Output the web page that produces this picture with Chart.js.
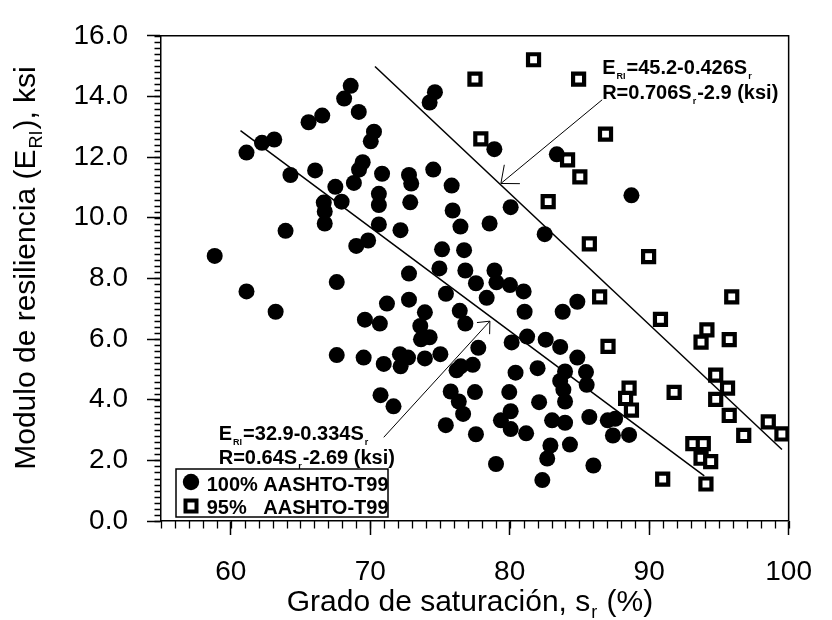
<!DOCTYPE html>
<html><head><meta charset="utf-8">
<script src="https://cdn.jsdelivr.net/npm/chart.js@4.4.0/dist/chart.umd.min.js"></script>
<style>html,body{margin:0;padding:0;background:#fff;}#wrap{width:832px;height:620px;}</style>
</head><body><div id="wrap"><canvas id="c" width="832" height="620"></canvas></div>
<script>
const FONT = '"Liberation Sans", Arial, Helvetica, sans-serif';

const xTickValues = [60, 70, 80, 90, 100];
const xTickLabels = ["60", "70", "80", "90", "100"];
const yTickValues = [0, 2, 4, 6, 8, 10, 12, 14, 16];
const yTickLabels = ["0.0", "2.0", "4.0", "6.0", "8.0", "10.0", "12.0", "14.0", "16.0"];

// 100% AASHTO-T99 (filled circles)
const sat100 = [68.6,68.13,69.18,66.56,65.58,70.27,70.04,63.12,62.24,61.13,69.46,69.2,66.05,64.28,68.83,67.5,67.95,66.67,66.74,66.74,63.93,69.85,69.0,58.85,
74.64,74.26,78.9,83.38,70.85,72.78,72.94,74.52,75.84,70.62,70.62,72.87,75.91,76.47,78.56,80.07,82.51,70.62,72.17,75.15,76.73,74.96,76.82,78.91,72.78,
88.73,
61.13,67.6,63.22,69.62,67.6,69.53,
77.58,79.05,80.02,81.0,78.35,75.43,71.2,72.78,84.85,83.8,81.07,76.42,76.82,73.92,73.59,70.69,73.64,74.26,72.13,72.71,72.18,70.97,73.92,75.03,77.75,80.14,81.25,82.58,83.62,84.85,83.97,83.62,83.85,83.97,82.11,82.0,80.42,76.19,76.49,77.35,77.51,75.77,76.35,76.66,75.42,77.58,70.74,71.67,79.97,80.07,79.37,80.07,81.18,83.04,83.97,82.92,82.69,84.32,79.02,82.34,
85.47,85.52,85.71,86.0,87.03,87.56,87.4,88.56];
const mr100 = [14.35,13.93,13.49,13.37,13.15,12.84,12.52,12.58,12.47,12.15,11.83,11.59,11.56,11.41,11.15,11.02,10.53,10.5,10.21,9.81,9.57,9.25,9.07,8.74,
14.14,13.8,12.26,12.09,11.45,11.41,11.13,11.59,11.06,10.79,10.42,10.51,10.24,9.71,9.81,10.35,9.46,9.78,9.59,8.96,8.93,8.33,8.26,8.26,8.16,
10.74,
7.57,7.88,6.9,6.64,5.47,5.39,
7.84,7.87,7.78,7.57,7.36,7.49,7.17,7.3,7.23,6.9,6.9,6.93,6.51,6.88,6.43,6.51,5.99,6.06,5.5,5.39,5.1,5.18,5.36,5.5,5.71,5.89,6.08,5.98,5.74,5.39,4.93,4.62,4.33,3.94,3.92,5.04,4.89,4.97,5.1,5.15,4.25,4.27,3.94,3.53,3.16,2.86,4.15,3.78,4.25,3.62,3.32,3.03,2.89,3.32,3.24,2.49,2.06,2.52,1.88,1.35,
4.91,4.49,3.43,1.83,3.32,3.37,2.82,2.84];

// 95% AASHTO-T99 (open squares)
const sat95 = [81.71,77.51,84.94,77.93,84.15,85.03,82.76,86.87,85.71,89.96,
86.45,95.92,90.81,94.14,93.72,95.74,87.05,94.77,95.62,94.77,88.56,88.31,88.73,91.79,95.74,96.78,98.54,99.52,93.13,93.88,93.72,94.41,90.97,94.07];
const mr95 = [15.21,14.57,14.57,12.6,11.91,11.35,10.53,12.76,9.14,8.72,
7.39,7.39,6.65,6.3,5.9,5.98,5.76,4.81,4.38,4.01,4.38,4.04,3.66,4.24,3.48,2.82,3.27,2.87,2.55,2.55,2.07,1.96,1.38,1.22];

// fitted lines (end points, data units)
const fit100X = [60.7, 93.95];
const fit100Y = [12.87, 1.49];
const fit95X = [70.34, 99.52];
const fit95Y = [14.99, 2.36];

// arrows (from label to line, data units)
const arrow100X = [70.97, 78.58];
const arrow100Y = [2.76, 6.59];
const arrow95X = [86.63, 79.37];
const arrow95Y = [13.89, 11.13];

const eq100Lines = [
  [{t:"E"},{t:"RI",sub:true},{t:"=32.9-0.334S"},{t:"r",sub:true}],
  [{t:"R=0.64S"},{t:"r",sub:true},{t:"-2.69 (ksi)"}]
];
const eq95Lines = [
  [{t:"E"},{t:"RI",sub:true},{t:"=45.2-0.426S"},{t:"r",sub:true}],
  [{t:"R=0.706S"},{t:"r",sub:true},{t:"-2.9 (ksi)"}]
];
const eq100Pos = [59.14, 2.68];
const eq95Pos = [86.63, 14.74];

const xTitle = [{t:"Grado de saturación, s"},{t:"r",sub:true},{t:" (%)"}];
const yTitle = [{t:"Modulo de resiliencia (E"},{t:"RI",sub:true},{t:"), ksi"}];
const legendLabels = [["100%", "AASHTO-T99"], ["95%", "AASHTO-T99"]];

function richWidth(ctx, segs, f, sf){
  let w = 0;
  for (const s of segs){ ctx.font = s.sub ? sf : f; w += ctx.measureText(s.t).width + (s.sub ? 2 : 0); }
  return w;
}
function drawRich(ctx, x, y, segs, f, sf, dy){
  let cx = x;
  ctx.textBaseline = 'alphabetic'; ctx.textAlign = 'left'; ctx.fillStyle = '#000';
  for (const s of segs){
    if (s.sub){ ctx.font = sf; cx += 1; ctx.fillText(s.t, cx, y + dy); cx += ctx.measureText(s.t).width + 1; }
    else { ctx.font = f; ctx.fillText(s.t, cx, y); cx += ctx.measureText(s.t).width; }
  }
}
function drawArrow(ctx, x0, y0, x1, y1, len, ang){
  ctx.beginPath(); ctx.moveTo(x0, y0); ctx.lineTo(x1, y1); ctx.stroke();
  const a = Math.atan2(y0 - y1, x0 - x1);
  ctx.beginPath();
  ctx.moveTo(x1 + len*Math.cos(a+ang), y1 + len*Math.sin(a+ang));
  ctx.lineTo(x1, y1);
  ctx.lineTo(x1 + len*Math.cos(a-ang), y1 + len*Math.sin(a-ang));
  ctx.stroke();
}

const deco = {
  id: 'deco',
  afterDatasetsDraw(chart){
    const {ctx, scales:{x, y}} = chart;
    ctx.save();
    ctx.strokeStyle = '#000'; ctx.lineWidth = 1;
    drawArrow(ctx, x.getPixelForValue(arrow95X[0]), y.getPixelForValue(arrow95Y[0]), x.getPixelForValue(arrow95X[1]), y.getPixelForValue(arrow95Y[1]), 19, 0.7);
    drawArrow(ctx, x.getPixelForValue(arrow100X[0]), y.getPixelForValue(arrow100Y[0]), x.getPixelForValue(arrow100X[1]), y.getPixelForValue(arrow100Y[1]), 13, 0.72);
    const bf = 'bold 20px ' + FONT, sbf = 'bold 9px ' + FONT;
    [[eq100Lines, eq100Pos], [eq95Lines, eq95Pos]].forEach(([lines, pos]) => {
      const px = x.getPixelForValue(pos[0]), py = y.getPixelForValue(pos[1]);
      lines.forEach((segs, i) => drawRich(ctx, px, py + i*24.5, segs, bf, sbf, 5));
    });
    ctx.restore();
  },
  afterDraw(chart){
    const {ctx, chartArea:a, scales:{x, y}} = chart;
    ctx.save();
    ctx.strokeStyle = '#000'; ctx.lineWidth = 1.5;
    // frame top & right
    ctx.beginPath();
    ctx.moveTo(a.left, a.top); ctx.lineTo(a.right, a.top); ctx.lineTo(a.right, a.bottom);
    ctx.stroke();
    // minor ticks
    ctx.lineWidth = 1.3;
    ctx.beginPath();
    for (let v = x.min; v <= x.max + 1e-9; v += 1){
      const px = Math.round(x.getPixelForValue(v)) + 0.5;
      ctx.moveTo(px, a.bottom); ctx.lineTo(px, a.bottom + 7.5);
    }
    for (let i = 0; i <= 80; i++){
      const py = Math.round(y.getPixelForValue(i*0.2)) + 0.5;
      ctx.moveTo(a.left - 6.5, py); ctx.lineTo(a.left, py);
    }
    ctx.stroke();
    // axis titles
    const tf = '30px ' + FONT, tsf = '18px ' + FONT;
    const xw = richWidth(ctx, xTitle, tf, tsf);
    drawRich(ctx, 470 - xw/2, 611, xTitle, tf, tsf, 7);
    ctx.translate(35, 268);
    ctx.rotate(-Math.PI/2);
    const w = richWidth(ctx, yTitle, tf, tsf);
    drawRich(ctx, -w/2, 0, yTitle, tf, tsf, 7);
    ctx.setTransform(1,0,0,1,0,0);
    // legend
    const lx = a.left + 15, ly = a.bottom - 52, lw = 212, lh = 48;
    ctx.fillStyle = '#fff'; ctx.fillRect(lx, ly, lw, lh);
    ctx.lineWidth = 1.5; ctx.strokeStyle = '#000'; ctx.strokeRect(lx, ly, lw, lh);
    ctx.fillStyle = '#000';
    ctx.beginPath(); ctx.arc(lx + 15, ly + 13, 8.2, 0, Math.PI*2); ctx.fill();
    ctx.fillStyle = '#fff'; ctx.lineWidth = 4;
    ctx.fillRect(lx + 9.5, ly + 31.5, 11, 11); ctx.strokeRect(lx + 9.5, ly + 31.5, 11, 11);
    ctx.fillStyle = '#000'; ctx.font = 'bold 20px ' + FONT; ctx.textBaseline = 'alphabetic'; ctx.textAlign = 'left';
    legendLabels.forEach((l, i) => {
      ctx.fillText(l[0], lx + 30.7, ly + 22 + i*22.6);
      ctx.fillText(l[1], lx + 87.3, ly + 22 + i*22.6);
    });
    ctx.restore();
  }
};

const pts = (xs, ys) => xs.map((v, i) => ({x: v, y: ys[i]}));

new Chart(document.getElementById('c'), {
  type: 'scatter',
  data: {
    datasets: [
      {type:'line', data: pts(fit100X, fit100Y), borderColor:'#000', borderWidth:1.5, pointRadius:0, fill:false},
      {type:'line', data: pts(fit95X, fit95Y), borderColor:'#000', borderWidth:1.5, pointRadius:0, fill:false},
      {label:'100% AASHTO-T99', data: pts(sat100, mr100), pointStyle:'circle', pointRadius:8, backgroundColor:'#000', borderWidth:0},
      {label:'95% AASHTO-T99', data: pts(sat95, mr95), pointStyle:'rect', pointRadius:7.8, backgroundColor:'#fff', borderColor:'#000', borderWidth:4.2}
    ]
  },
  options: {
    responsive: false, animation: false, events: [],
    layout: {padding: {left: 0, top: 19, right: 26, bottom: 0}},
    plugins: {legend: {display: false}, tooltip: {enabled: false}},
    scales: {
      x: {
        type: 'linear', min: 55, max: 100,
        afterBuildTicks: s => { s.ticks = xTickValues.map(v => ({value: v})); },
        afterFit: s => { s.height = 99; },
        ticks: {callback: v => xTickLabels[xTickValues.indexOf(v)], font: {family: FONT, size: 28}, color: '#000', padding: 20, maxRotation: 0, autoSkip: false},
        grid: {drawOnChartArea: false, tickLength: 14, tickColor: '#000', tickWidth: 1.5},
        border: {color: '#000', width: 1.5}
      },
      y: {
        type: 'linear', min: 0, max: 16,
        afterBuildTicks: s => { s.ticks = yTickValues.map(v => ({value: v})); },
        afterFit: s => { s.width = 161; },
        ticks: {callback: v => yTickLabels[yTickValues.indexOf(v)], font: {family: FONT, size: 28}, color: '#000', padding: 19, autoSkip: false},
        grid: {drawOnChartArea: false, tickLength: 14, tickColor: '#000', tickWidth: 1.5},
        border: {color: '#000', width: 1.5}
      }
    }
  },
  plugins: [deco]
});
</script>
</body></html>
